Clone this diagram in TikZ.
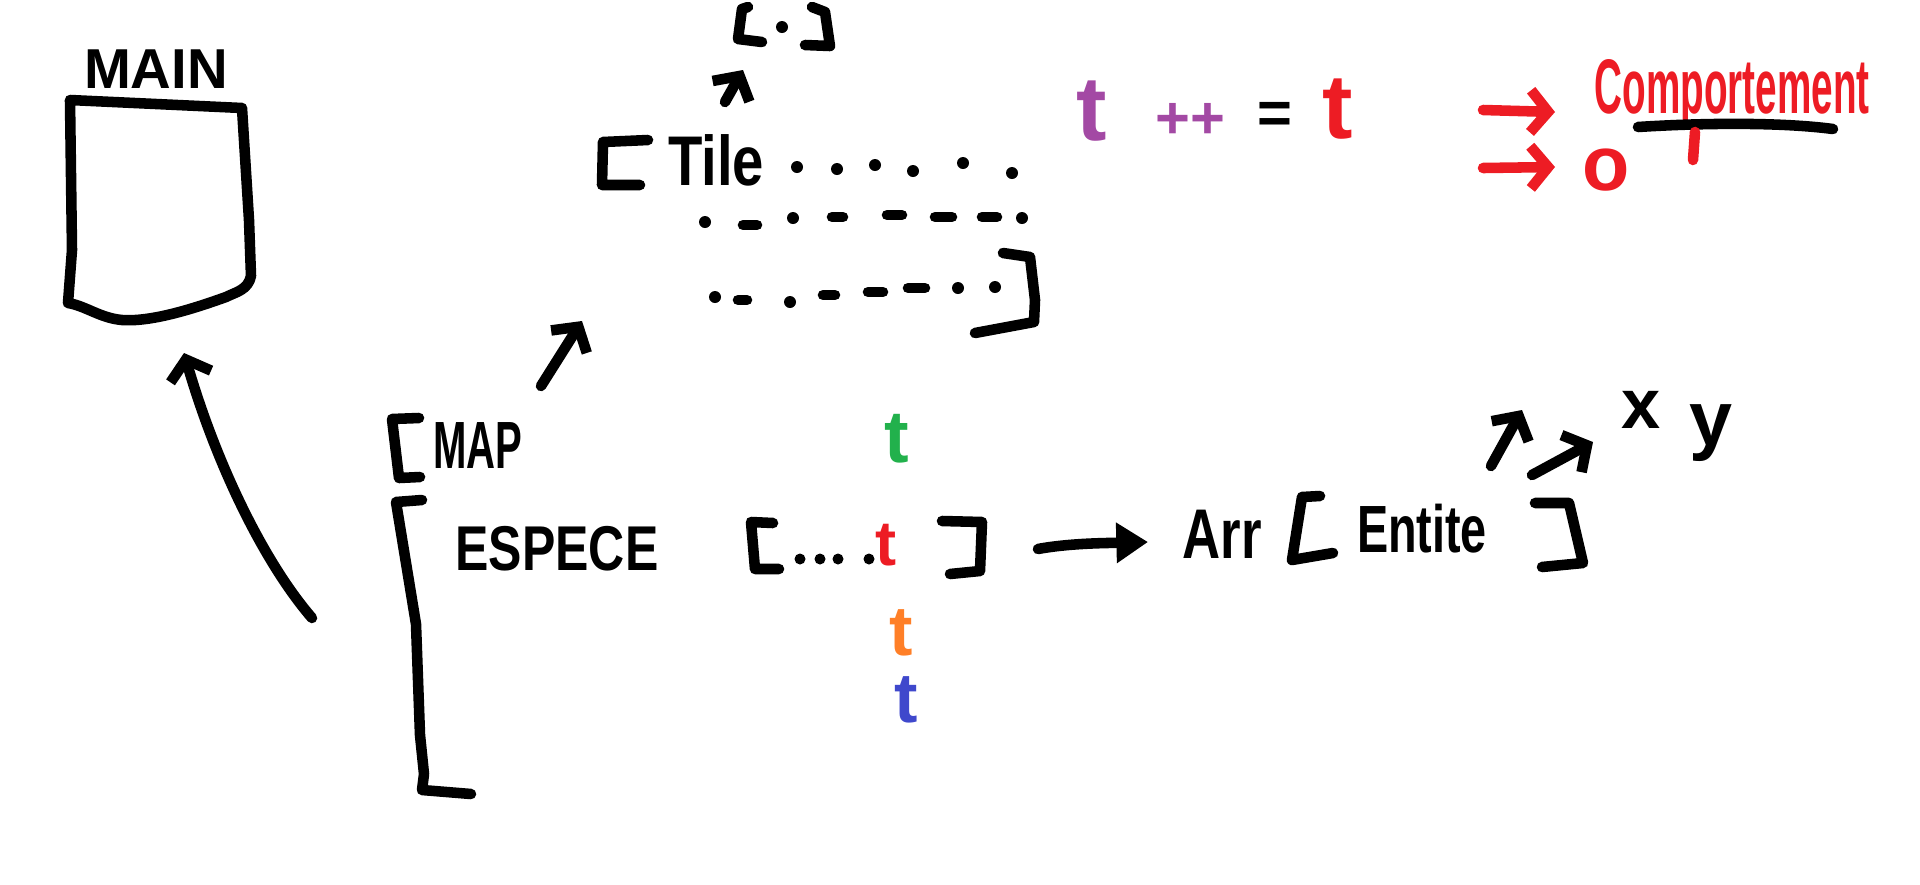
\documentclass[tikz,border=0pt]{standalone}
\usepackage{fontspec}
\setmainfont{Liberation Sans}
\usetikzlibrary{arrows.meta}
\definecolor{inkred}{RGB}{237,28,36}
\definecolor{inkpurple}{RGB}{163,73,164}
\definecolor{inkgreen}{RGB}{34,177,76}
\definecolor{inkorange}{RGB}{255,127,39}
\definecolor{inkblue}{RGB}{63,72,204}
\newcommand{\fs}[1]{\fontsize{#1}{#1}\selectfont\bfseries}
\begin{document}
\begin{tikzpicture}[x=0.01cm,y=-0.01cm,
  ink/.style={line width=3pt,line cap=round,line join=round},
  tip/.style={-{Straight Barb[length=5pt,width=12pt]}},
  filltip/.style={-{Triangle[length=9pt,width=11pt]}},
  lbl/.style={inner sep=0pt,anchor=base},
  inkdot/.style={fill=black},
  inkdash/.style={line width=3pt,line cap=round}]
\useasboundingbox (0,0) rectangle (1920,884);

% ---------- MAIN ----------
\node[lbl,font=\fs{16}] (mainlbl) at (156,88) {MAIN};
\draw[ink] (70,100) -- (242,108) -- (249,220) -- (251,276)
  .. controls (248,290) and (236,292) .. (226,297)
  .. controls (190,310) and (150,322) .. (122,320)
  .. controls (100,318) and (86,306) .. (68,303) -- (72,250) -- cycle;
\coordinate (mainbot) at (184,353);
\coordinate (especetail) at (312,618);
\draw[ink,tip] (especetail) .. controls (262,560) and (215,460) .. (mainbot);

% ---------- MAP ----------
\draw[ink] (419,418) -- (392,419) -- (399,478) -- (420,477);
\node[lbl,font=\fs{19}] (map) at (478,468) {\scalebox{0.6}[1]{MAP}};
\coordinate (mapout) at (541,386);
\coordinate (tilein) at (582,321);
\draw[ink,tip] (mapout) -- (tilein);

% ---------- ESPECE ----------
\draw[ink] (422,500) -- (396,502) -- (416,624) -- (420,735) -- (424,774) -- (422,790) -- (471,794);
\node[lbl,font=\fs{18}] (espece) at (557,570) {\scalebox{0.79}[1]{ESPECE}};

\draw[ink] (773,523) -- (751,522) -- (755,569) -- (779,569);
\foreach \x in {800,820,838,869} \fill[inkdot] (\x,559) circle (5.5);
\node[lbl,font=\fs{18},text=inkred] (tred) at (886,565) {t};
\draw[ink] (942,521) -- (982,522) -- (980,571) -- (950,574);
\node[lbl,font=\fs{21},text=inkgreen] (tgreen) at (897,462) {t};
\node[lbl,font=\fs{20},text=inkorange] (torange) at (901,655) {t};
\node[lbl,font=\fs{20},text=inkblue] (tblue) at (906,722) {t};

\coordinate (arrfrom) at (1038,549);
\coordinate (arrto) at (1148,542);
\draw[ink,filltip] (arrfrom) .. controls (1070,543) and (1110,543) .. (arrto);
\node[lbl,font=\fs{20}] (arr) at (1222,558) {\scalebox{0.75}[1]{Arr}};
\draw[ink] (1320,496) -- (1302,497) -- (1292,560) -- (1333,553);
\node[lbl,font=\fs{19}] (entite) at (1422,552) {\scalebox{0.7}[1]{Entite}};
\draw[ink] (1535,503) -- (1569,503) -- (1583,563) -- (1542,567);

\coordinate (up1a) at (1491,466); \coordinate (up1b) at (1522,410);
\coordinate (up2a) at (1532,475); \coordinate (up2b) at (1593,442);
\draw[ink,tip] (up1a) -- (up1b);
\draw[ink,tip] (up2a) -- (up2b);
\node[lbl,font=\fs{20}] (xlbl) at (1641,428) {x};
\node[lbl,font=\fs{22}] (ylbl) at (1711,445) {y};

% ---------- Tile ----------
\draw[ink] (648,140) -- (603,142) -- (602,185) -- (640,185);
\node[lbl,font=\fs{20}] (tile) at (716,185) {\scalebox{0.8}[1]{Tile}};
\foreach \x/\y in {797/167,837/169,875/165,913/171,963/163,1012/173,
                   705/222,793/218,1022/218,
                   715/297,790/302,958/288,995/287}
  \fill[inkdot] (\x,\y) circle (6);
\foreach \xa/\xb/\y in {743/757/225,832/843/217,887/902/215,935/952/217,982/997/217,
                        738/747/300,823/835/295,868/883/292,908/925/288}
  \draw[inkdash] (\xa,\y) -- (\xb,\y);
\draw[ink] (1003,253) -- (1030,257) -- (1035,300) -- (1034,322) -- (975,333);

% ---------- [.] ----------
\coordinate (tileup) at (725,102);
\coordinate (dotbox) at (743,70);
\draw[ink,tip] (tileup) -- (dotbox);
\draw[ink] (748,7) -- (742,9) -- (738,39) -- (762,42);
\fill[inkdot] (782,27) circle (6);
\draw[ink] (812,7) -- (825,12) -- (830,46) -- (805,45);

% ---------- t ++ = t ----------
\node[lbl,font=\fs{26},text=inkpurple] (tpurple) at (1092,140) {t};
\node[lbl,font=\fs{17},text=inkpurple] (plusplus) at (1190,138) {++};
\node[inner sep=0pt,font=\fs{17}] (eq) at (1275,118) {=};
\node[lbl,font=\fs{26},text=inkred] (tred2) at (1338,138) {t};

% ---------- red arrows ----------
\coordinate (ra1) at (1483,110); \coordinate (rb1) at (1555,112);
\coordinate (ra2) at (1483,168); \coordinate (rb2) at (1555,167);
\draw[ink,inkred,tip] (ra1) -- (rb1);
\draw[ink,inkred,tip] (ra2) -- (rb2);
\node[lbl,font=\fs{22},text=inkred] (olbl) at (1606,190) {o};
\node[lbl,font=\fs{22},text=inkred] (comp) at (1732,113) {\scalebox{0.5}[1]{Comportement}};
\coordinate (ula) at (1638,127); \coordinate (ulb) at (1833,129);
\draw[ink] (ula) .. controls (1700,123) and (1780,122) .. (ulb);
\draw[ink,inkred] (1695,132) -- (1693,160);
\end{tikzpicture}
\end{document}
